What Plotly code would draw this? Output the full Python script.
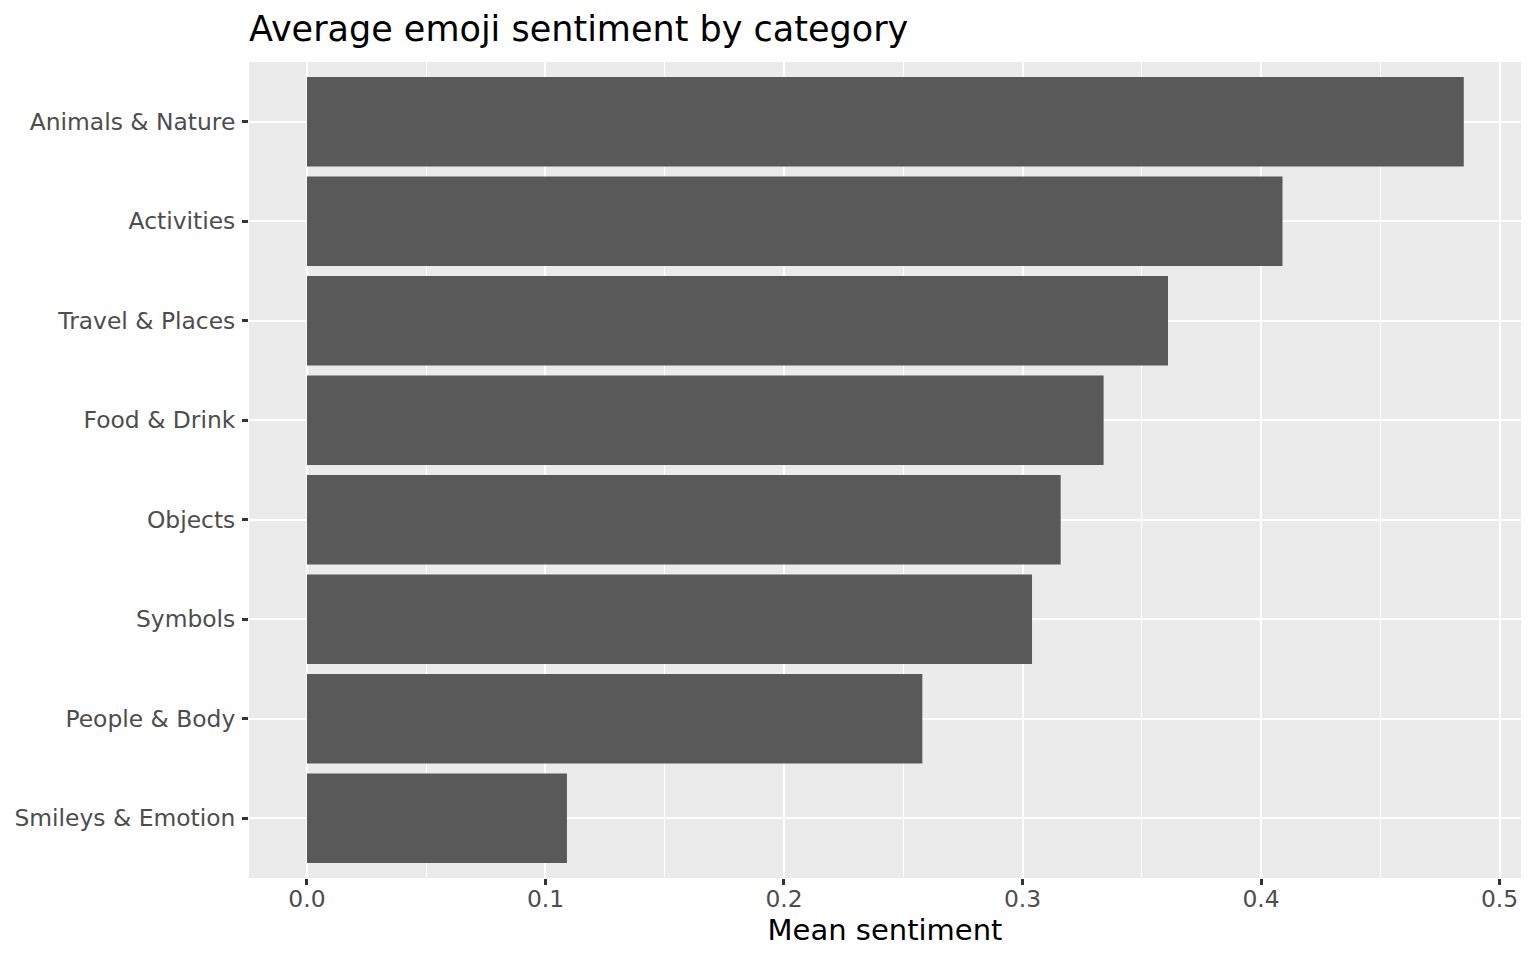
import plotly.graph_objects as go

# Categories listed top to bottom, as in the chart
categories = [
    "Animals & Nature",
    "Activities",
    "Travel & Places",
    "Food & Drink",
    "Objects",
    "Symbols",
    "People & Body",
    "Smileys & Emotion",
]
mean_sentiment = [0.485, 0.409, 0.361, 0.334, 0.316, 0.304, 0.258, 0.109]
x_ticks = [0.0, 0.1, 0.2, 0.3, 0.4, 0.5]

fig = go.Figure(
    data=[
        go.Bar(
            x=mean_sentiment,
            y=categories,
            orientation="h",
            marker_color="#595959",
            marker_line_width=0,
            width=0.9,
        )
    ]
)

# page body adds an 8px offset, so figure is sized a bit smaller
fig.update_layout(
    width=1520,
    height=944,
    margin=dict(l=241, r=7, t=54, b=74),
    paper_bgcolor="white",
    plot_bgcolor="#EBEBEB",
    font=dict(family="DejaVu Sans", size=23, color="#4D4D4D"),
    showlegend=False,
    title=dict(
        text="Average emoji sentiment by category",
        font=dict(size=35, color="black"),
        xref="container",
        x=241 / 1520,
        xanchor="left",
        yref="container",
        y=1 - 21 / 944,
        yanchor="middle",
    ),
)

fig.update_xaxes(
    range=[-0.0243, 0.509],
    tickvals=x_ticks,
    ticktext=[f"{v:.1f}" for v in x_ticks],
    showgrid=True,
    gridcolor="white",
    gridwidth=2,
    zeroline=False,
    ticks="outside",
    ticklen=6,
    tickwidth=2.5,
    tickcolor="#333333",
    tickfont=dict(size=23.4, color="#4D4D4D"),
    ticklabelstandoff=-6,
    minor=dict(dtick=0.05, tick0=0, showgrid=True, gridcolor="white", gridwidth=1, ticks=""),
    title=dict(text="Mean sentiment", font=dict(size=29, color="black"), standoff=0),
)

fig.update_yaxes(
    categoryorder="array",
    categoryarray=categories[::-1],
    range=[-0.6, 7.6],
    showgrid=True,
    gridcolor="white",
    gridwidth=2,
    ticks="outside",
    ticklen=6,
    tickwidth=2.5,
    tickcolor="#333333",
    tickfont=dict(size=23.4, color="#4D4D4D"),
    ticklabelstandoff=2,
)

fig.write_html("out.html")
